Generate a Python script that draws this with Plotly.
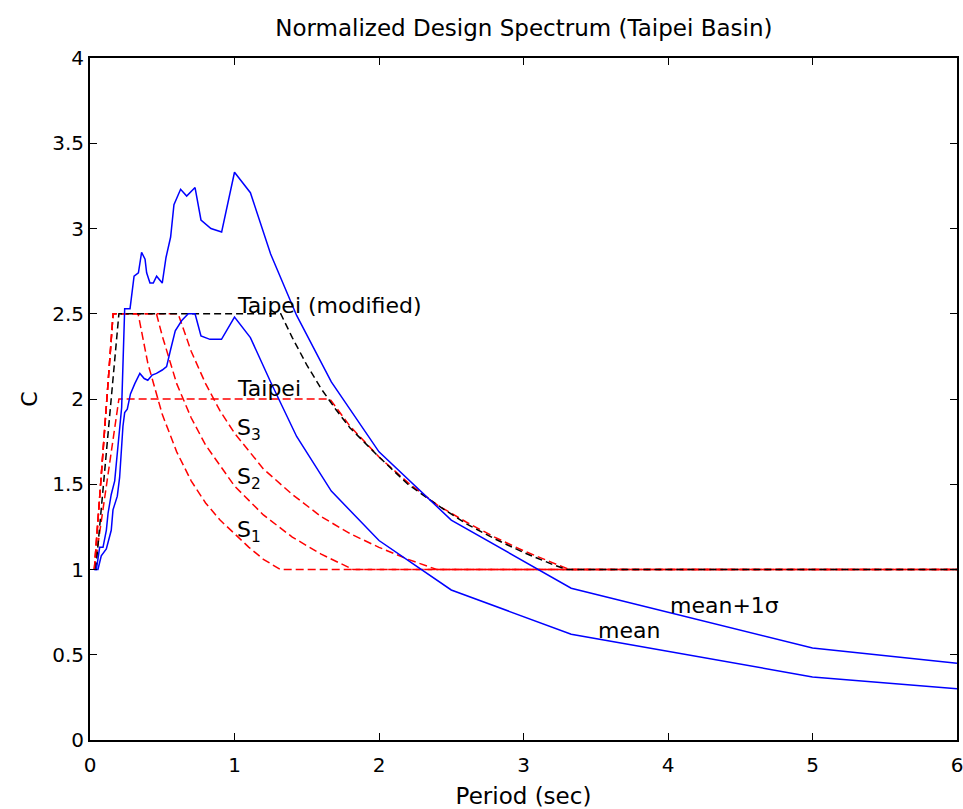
import plotly.graph_objects as go

# ---- Measured spectra: period T (sec) and normalized coefficient C ----
mean_T = [0.03, 0.055, 0.078, 0.095, 0.113, 0.147, 0.159, 0.189, 0.205, 0.228, 0.24, 0.258,
          0.28, 0.31, 0.345, 0.375, 0.40, 0.43, 0.46, 0.50, 0.53, 0.555, 0.59, 0.635, 0.68,
          0.727, 0.768, 0.83, 0.91, 1.0, 1.11, 1.25, 1.43, 1.67, 2.0, 2.5, 3.33, 5.0, 6.0]
mean_C = [1.0, 1.0, 1.08, 1.1, 1.12, 1.23, 1.35, 1.43, 1.54, 1.84, 1.92, 1.94,
          2.03, 2.09, 2.15, 2.12, 2.11, 2.14, 2.15, 2.17, 2.19, 2.28, 2.40, 2.46, 2.50,
          2.50, 2.37, 2.35, 2.35, 2.48, 2.36, 2.10, 1.78, 1.46, 1.17, 0.88, 0.62, 0.37, 0.30]

msig_T = [0.03, 0.044, 0.067, 0.09, 0.113, 0.125, 0.147, 0.171, 0.182, 0.205, 0.219, 0.24,
          0.277, 0.305, 0.335, 0.357, 0.381, 0.392, 0.415, 0.438, 0.461, 0.50, 0.526, 0.558,
          0.581, 0.627, 0.669, 0.727, 0.768, 0.837, 0.911, 1.0, 1.11, 1.25, 1.43, 1.67, 2.0,
          2.5, 3.33, 5.0, 6.0]
msig_C = [1.0, 1.0, 1.13, 1.13, 1.23, 1.33, 1.44, 1.52, 1.62, 1.80, 1.95, 2.53,
          2.53, 2.72, 2.74, 2.86, 2.82, 2.74, 2.68, 2.68, 2.72, 2.68, 2.83, 2.95,
          3.14, 3.23, 3.19, 3.24, 3.05, 3.00, 2.98, 3.33, 3.21, 2.85, 2.49, 2.10, 1.69,
          1.29, 0.89, 0.54, 0.45]

# ---- Code design spectra ----
s1_T = [0.03, 0.16, 0.333, 0.4, 0.5, 0.6, 0.7, 0.8, 0.9, 1.0, 1.1, 1.2, 1.317, 6.0]
s1_C = [1.0, 2.5, 2.5, 2.21, 1.91, 1.69, 1.52, 1.39, 1.29, 1.21, 1.13, 1.06, 1.0, 1.0]

s2_T = [0.03, 0.16, 0.46, 0.5, 0.6, 0.7, 0.8, 0.9, 1.0, 1.2, 1.4, 1.6, 1.82, 6.0]
s2_C = [1.0, 2.5, 2.5, 2.37, 2.09, 1.89, 1.73, 1.61, 1.49, 1.32, 1.19, 1.09, 1.0, 1.0]

s3_T = [0.03, 0.16, 0.61, 0.7, 0.8, 0.9, 1.0, 1.2, 1.4, 1.6, 1.8, 2.0, 2.2, 2.4, 6.0]
s3_C = [1.0, 2.5, 2.5, 2.28, 2.09, 1.93, 1.80, 1.59, 1.44, 1.31, 1.21, 1.13, 1.06, 1.0, 1.0]

taipei_T = [0.03, 0.2, 1.66, 1.8, 2.0, 2.2, 2.4, 2.6, 2.8, 3.0, 3.2, 3.32, 6.0]
taipei_C = [1.0, 2.0, 2.0, 1.84, 1.66, 1.51, 1.38, 1.28, 1.19, 1.11, 1.04, 1.0, 1.0]

taipei_mod_T = [0.04, 0.2, 1.32, 1.4, 1.5, 1.6, 1.7, 1.8, 2.0, 2.2, 2.4, 2.6, 2.8, 3.0, 3.2, 3.3, 6.0]
taipei_mod_C = [1.0, 2.5, 2.5, 2.36, 2.2, 2.06, 1.94, 1.83, 1.66, 1.5, 1.38, 1.27, 1.18, 1.1, 1.03, 1.0, 1.0]

x_ticks = [0, 1, 2, 3, 4, 5, 6]
y_ticks = [0, 0.5, 1, 1.5, 2, 2.5, 3, 3.5, 4]

FONT = "DejaVu Sans"
RED = "#ff0000"
BLUE = "#0000ff"
DASH = "8px,4px"

fig = go.Figure()

for T, C in [(s1_T, s1_C), (s2_T, s2_C), (s3_T, s3_C), (taipei_T, taipei_C)]:
    fig.add_trace(go.Scatter(x=T, y=C, mode="lines",
                             line=dict(color=RED, width=1.5, dash=DASH),
                             hoverinfo="skip"))

fig.add_trace(go.Scatter(x=taipei_mod_T, y=taipei_mod_C, mode="lines",
                         line=dict(color="black", width=1.5, dash="7px,4px"),
                         hoverinfo="skip"))

for T, C in [(mean_T, mean_C), (msig_T, msig_C)]:
    fig.add_trace(go.Scatter(x=T, y=C, mode="lines",
                             line=dict(color=BLUE, width=1.5),
                             hoverinfo="skip"))

labels = [
    (1.0, 2.55, "Taipei (modified)"),
    (1.0, 2.06, "Taipei"),
    (1.0, 1.82, "S<sub>3</sub>"),
    (1.0, 1.535, "S<sub>2</sub>"),
    (1.0, 1.225, "S<sub>1</sub>"),
    (4.0, 0.79, "mean+1σ"),
    (3.5, 0.645, "mean"),
]
for x, y, t in labels:
    fig.add_annotation(x=x, y=y, text=t, showarrow=False, xanchor="left",
                       yanchor="middle", font=dict(family=FONT, size=22, color="black"))

axis_common = dict(showline=True, linecolor="black", linewidth=2, mirror="ticks",
                   ticks="inside", ticklen=7, tickwidth=1, tickcolor="black",
                   showgrid=False, zeroline=False, automargin=False,
                   ticklabeloverflow="allow",
                   tickfont=dict(family=FONT, size=20, color="black"))

fig.update_layout(
    width=963, height=809,
    margin=dict(l=90, r=6, t=58, b=69),
    paper_bgcolor="white", plot_bgcolor="white",
    showlegend=False,
    title=dict(text="Normalized Design Spectrum (Taipei Basin)", x=0.544, xanchor="center",
               y=0.965, yanchor="middle", font=dict(family=FONT, size=23, color="black")),
    xaxis=dict(range=[0, 6], tickvals=x_ticks, ticklabelstandoff=6,
               title=dict(text="Period (sec)", standoff=13,
                          font=dict(family=FONT, size=23, color="black")),
               **axis_common),
    yaxis=dict(range=[0, 4], tickvals=y_ticks,
               title=dict(text="C", standoff=8,
                          font=dict(family=FONT, size=22, color="black")),
               **axis_common),
)

fig.write_html("out.html")
